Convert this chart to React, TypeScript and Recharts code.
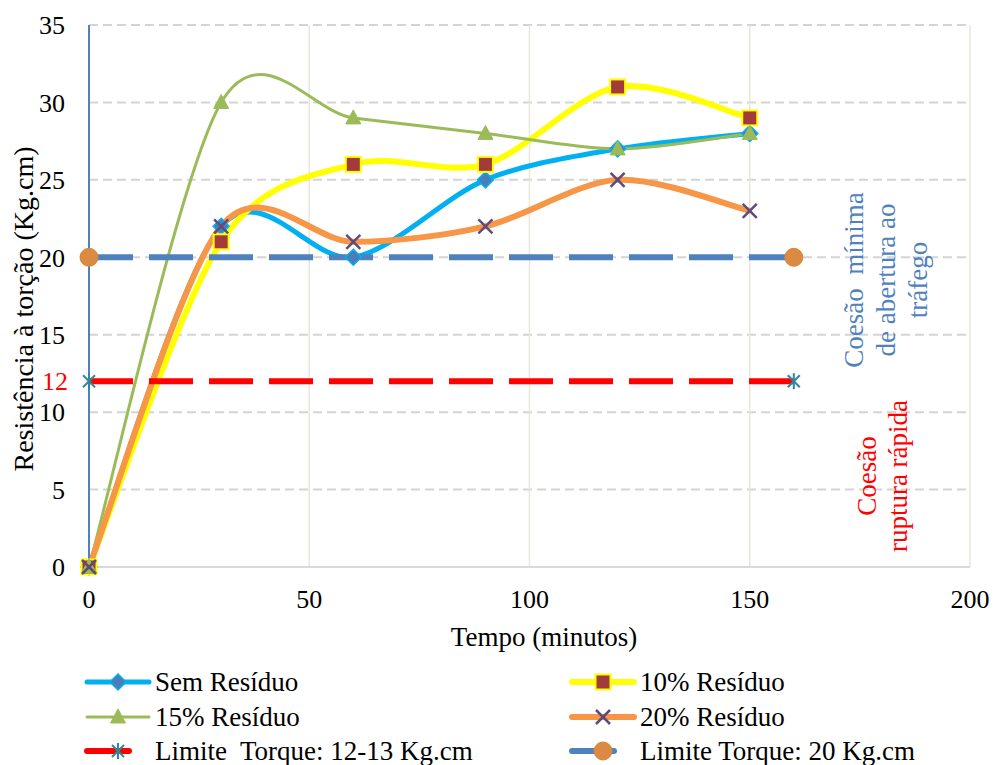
import React from "react";
import { LineChart, Line, XAxis, YAxis, CartesianGrid } from "recharts";

// ---- data ----
const TIME_MIN = [0, 30, 60, 90, 120, 150];
const SEM_RESIDUO = [0, 22, 20, 25, 27, 28];
const RESIDUO_10 = [0, 21, 26, 26, 31, 29];
const RESIDUO_15 = [0, 30, 29, 28, 27, 28];
const RESIDUO_20 = [0, 22, 21, 22, 25, 23];
const LIMIT_X = [0, 160];
const LIMIT_12 = [12, 12];
const LIMIT_20 = [20, 20];
const X_TICKS = [0, 50, 100, 150, 200];
const Y_TICKS = [0, 5, 10, 12, 15, 20, 25, 30, 35];
const GRID_Y = [5, 10, 15, 20, 25, 30, 35];
const GRID_X = [50, 100, 150, 200];

const mainData = TIME_MIN.map((t, i) => ({
  t,
  sem: SEM_RESIDUO[i],
  r10: RESIDUO_10[i],
  r15: RESIDUO_15[i],
  r20: RESIDUO_20[i],
}));
const limit12Data = LIMIT_X.map((t, i) => ({ t, v: LIMIT_12[i] }));
const limit20Data = LIMIT_X.map((t, i) => ({ t, v: LIMIT_20[i] }));

const FONT = "Liberation Serif";
const fontStyle = { fontFamily: FONT } as React.CSSProperties;

// Excel-like smoothed line (Catmull-Rom style Bezier)
function excelSmooth(context: any) {
  let pts: [number, number][] = [];
  return {
    areaStart() {},
    areaEnd() {},
    lineStart() {
      pts = [];
    },
    point(x: number, y: number) {
      pts.push([+x, +y]);
    },
    lineEnd() {
      const n = pts.length;
      if (n === 0) return;
      context.moveTo(pts[0][0], pts[0][1]);
      for (let i = 0; i < n - 1; i++) {
        const p0 = pts[Math.max(i - 1, 0)];
        const p1 = pts[i];
        const p2 = pts[i + 1];
        const p3 = pts[Math.min(i + 2, n - 1)];
        const k = 1 / 6.5;
        const c1x = p1[0] + (p2[0] - p0[0]) * k;
        const c1y = p1[1] + (p2[1] - p0[1]) * k;
        const c2x = p2[0] - (p3[0] - p1[0]) * k;
        const c2y = p2[1] - (p3[1] - p1[1]) * k;
        context.bezierCurveTo(c1x, c1y, c2x, c2y, p2[0], p2[1]);
      }
    },
  };
}

// ---- markers ----
const Diamond = ({ cx, cy }: any) => (
  <path
    d={`M${cx},${cy - 8}L${cx + 8},${cy}L${cx},${cy + 8}L${cx - 8},${cy}Z`}
    fill="#4A7EBB"
    stroke="#00B0F0"
    strokeWidth={1.5}
  />
);
const Square = ({ cx, cy }: any) => (
  <rect x={cx - 7.5} y={cy - 7.5} width={15} height={15} fill="#A33B3B" stroke="#FFFF00" strokeWidth={2} />
);
const Triangle = ({ cx, cy }: any) => (
  <path
    d={`M${cx},${cy - 8}L${cx + 7.5},${cy + 6}L${cx - 7.5},${cy + 6}Z`}
    fill="#9BBB59"
    stroke="#9BBB59"
    strokeWidth={1}
  />
);
const Cross = ({ cx, cy }: any) => (
  <g stroke="#604A7B" strokeWidth={2.5}>
    <line x1={cx - 7} y1={cy - 7} x2={cx + 7} y2={cy + 7} />
    <line x1={cx - 7} y1={cy + 7} x2={cx + 7} y2={cy - 7} />
  </g>
);
const Star = ({ cx, cy }: any) => (
  <g stroke="#31859C" strokeWidth={2}>
    <line x1={cx - 6} y1={cy - 6} x2={cx + 6} y2={cy + 6} />
    <line x1={cx - 6} y1={cy + 6} x2={cx + 6} y2={cy - 6} />
    <line x1={cx} y1={cy - 8} x2={cx} y2={cy + 8} />
  </g>
);
const Circle = ({ cx, cy }: any) => <circle cx={cx} cy={cy} r={9} fill="#DB8A43" stroke="#D9843A" strokeWidth={1} />;

const mk = (C: any) => (p: any) => <C key={`d-${p.index}`} cx={p.cx} cy={p.cy} />;

const LEGEND = [
  { name: "Sem Resíduo", color: "#00B0F0", width: 5, dashed: false, M: Diamond, col: 0, row: 0 },
  { name: "10% Resíduo", color: "#FFFF00", width: 6, dashed: false, M: Square, col: 1, row: 0 },
  { name: "15% Resíduo", color: "#9BBB59", width: 3, dashed: false, M: Triangle, col: 0, row: 1 },
  { name: "20% Resíduo", color: "#F79646", width: 6, dashed: false, M: Cross, col: 1, row: 1 },
  { name: "Limite  Torque: 12-13 Kg.cm", color: "#FF0000", width: 6, dashed: true, M: Star, col: 0, row: 2 },
  { name: "Limite Torque: 20 Kg.cm", color: "#4F81BD", width: 6, dashed: true, M: Circle, col: 1, row: 2 },
];

const YTick = (props: any) => {
  const { x, y, payload } = props;
  const is12 = payload.value === 12;
  return (
    <text
      x={is12 ? x + 3 : x}
      y={y}
      dy="0.355em"
      textAnchor="end"
      fill={is12 ? "#FF0000" : "#000000"}
      fontSize={26}
      style={fontStyle}
    >
      {payload.value}
    </text>
  );
};

const XTick = (props: any) => {
  const { x, y, payload } = props;
  return (
    <text x={x} y={y} dy="0.71em" textAnchor="middle" fill="#000000" fontSize={26} style={fontStyle}>
      {payload.value}
    </text>
  );
};

export default function App() {
  const colX = [87, 572];
  const rowY = [682, 717, 751];
  return (
    <div style={{ position: "absolute", left: 0, top: 0, width: 993, height: 765, background: "#fff", fontFamily: FONT }}>
      <LineChart width={993} height={765} margin={{ top: 25, right: 23, bottom: 168, left: 29 }}>
        <CartesianGrid
          vertical={false}
          horizontalValues={GRID_Y}
          stroke="#D4D4D4"
          strokeWidth={2}
          strokeDasharray="9 5"
        />
        <CartesianGrid horizontal={false} verticalValues={GRID_X} stroke="#E9E6DA" strokeWidth={1.5} />
        <XAxis
          type="number"
          dataKey="t"
          domain={[0, 200]}
          ticks={X_TICKS}
          interval={0}
          height={30}
          tickLine={false}
          tickSize={0}
          tickMargin={23}
          axisLine={{ stroke: "#D9D9D9", strokeWidth: 2 }}
          tick={<XTick />}
          allowDuplicatedCategory={false}
        />
        <YAxis
          type="number"
          domain={[0, 35]}
          ticks={Y_TICKS}
          interval={0}
          width={60}
          tickLine={false}
          tickSize={0}
          tickMargin={24}
          axisLine={{ stroke: "#4F81BD", strokeWidth: 2 }}
          tick={<YTick />}
        />
        <Line
          data={mainData}
          dataKey="sem"
          type={excelSmooth as any}
          stroke="#00B0F0"
          strokeWidth={5}
          dot={mk(Diamond)}
          activeDot={false}
          isAnimationActive={false}
        />
        <Line
          data={mainData}
          dataKey="r10"
          type={excelSmooth as any}
          stroke="#FFFF00"
          strokeWidth={6}
          dot={mk(Square)}
          activeDot={false}
          isAnimationActive={false}
        />
        <Line
          data={mainData}
          dataKey="r15"
          type={excelSmooth as any}
          stroke="#9BBB59"
          strokeWidth={3}
          dot={mk(Triangle)}
          activeDot={false}
          isAnimationActive={false}
        />
        <Line
          data={mainData}
          dataKey="r20"
          type={excelSmooth as any}
          stroke="#F79646"
          strokeWidth={6}
          dot={mk(Cross)}
          activeDot={false}
          isAnimationActive={false}
        />
        <Line
          data={limit12Data}
          dataKey="v"
          type="linear"
          stroke="#FF0000"
          strokeWidth={6}
          strokeDasharray="44 16"
          dot={mk(Star)}
          activeDot={false}
          isAnimationActive={false}
        />
        <Line
          data={limit20Data}
          dataKey="v"
          type="linear"
          stroke="#4F81BD"
          strokeWidth={6}
          strokeDasharray="44 16"
          dot={mk(Circle)}
          activeDot={false}
          isAnimationActive={false}
        />
      </LineChart>
      <svg
        width={993}
        height={765}
        style={{ position: "absolute", left: 0, top: 0, pointerEvents: "none", fontFamily: FONT }}
      >
        <text
          transform="translate(23,309) rotate(-90)"
          textAnchor="middle"
          dominantBaseline="central"
          fontSize={28}
          fill="#000"
        >
          Resistência à torção (Kg.cm)
        </text>
        <text x={544} y={637} textAnchor="middle" dominantBaseline="central" fontSize={27} fill="#000">
          Tempo (minutos)
        </text>
        <g fill="#4F81BD" fontSize={27} textAnchor="middle">
          <text transform="translate(863,280) rotate(-90)">{"Coesão\u00A0 mínima"}</text>
          <text transform="translate(895,280) rotate(-90)">de abertura ao</text>
          <text transform="translate(927,280) rotate(-90)">tráfego</text>
        </g>
        <g fill="#FF0000" fontSize={27} textAnchor="middle">
          <text transform="translate(876,476) rotate(-90)">Coesão</text>
          <text transform="translate(907,476) rotate(-90)">ruptura rápida</text>
        </g>
        {LEGEND.map((item) => {
          const x0 = colX[item.col];
          const y = rowY[item.row];
          const M = item.M;
          return (
            <g key={item.name}>
              <line
                x1={x0}
                y1={y}
                x2={x0 + (item.dashed ? 42 : 62)}
                y2={y}
                stroke={item.color}
                strokeWidth={item.width}
                strokeLinecap="round"
              />
              <M cx={x0 + 31} cy={y} />
              <text x={x0 + 68} y={y} dy="0.33em" fontSize={27} fill="#000">
                {item.name.replace(/  /g, "\u00A0 ")}
              </text>
            </g>
          );
        })}
      </svg>
    </div>
  );
}
